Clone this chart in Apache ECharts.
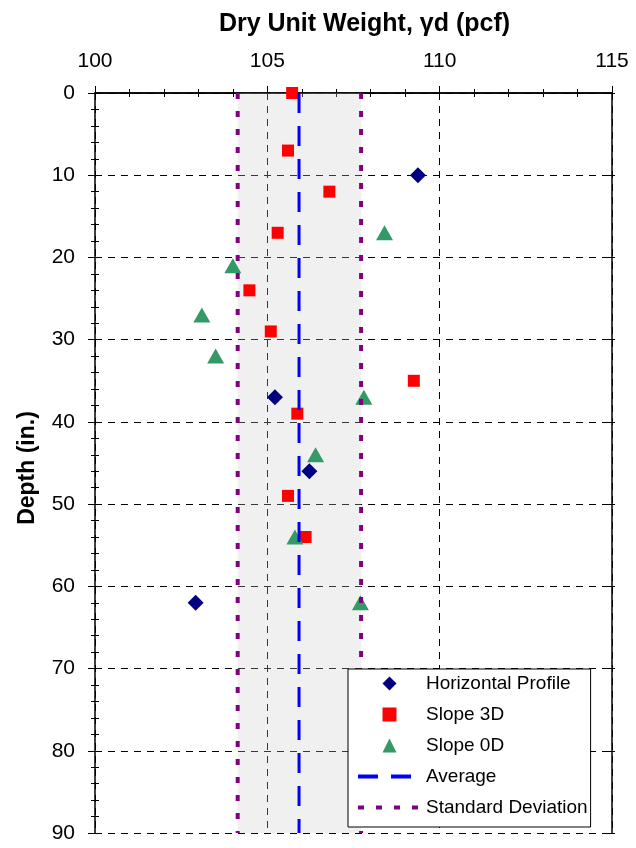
<!DOCTYPE html>
<html>
<head>
<meta charset="utf-8">
<script src="https://cdn.jsdelivr.net/npm/echarts@6/dist/echarts.min.js"></script>
<style>
  html, body { margin: 0; padding: 0; background: #fff; }
  #chart { width: 636px; height: 848px; }
</style>
</head>
<body>
<div id="chart"></div>
<script>
// depth (in.) and dry unit weight (pcf)
const hpDepth = [10, 37, 46, 62];
const hpWeight = [109.37, 105.22, 106.22, 102.92];

const s3Depth = [0, 7, 12, 17, 24, 29, 35, 39, 49, 54];
const s3Weight = [105.72, 105.6, 106.8, 105.3, 104.48, 105.1, 109.25, 105.87, 105.6, 106.11];

const s0Depth = [17, 21, 27, 32, 37, 44, 54, 62];
const s0Weight = [108.4, 104.0, 103.1, 103.5, 107.8, 106.4, 105.8, 107.7];

const averageWeight = 105.92;
const stdLow = 104.14;
const stdHigh = 107.72;
const depthRange = [0, 90];

const font = 'Arial, "Liberation Sans", sans-serif';
const pairs = (xs, ys) => xs.map((x, i) => [x, ys[i]]);
const vline = (x) => depthRange.map((d) => [x, d]);

const xBase = { type: 'value', min: 100, max: 115, interval: 5 };
const yBase = { type: 'value', min: 0, max: 90, interval: 10, inverse: true };
const blackLine = { show: true, lineStyle: { color: '#000', width: 1.5 } };
const tickStyle = { color: '#000', width: 1 };
const noMark = { color: 'rgba(0,0,0,0)', borderWidth: 0 };

// tick marks cross the axis line, so each side gets an extra axis with inside ticks
function innerTicks(base, position, minor) {
  return Object.assign({}, base, {
    position: position,
    axisLine: { show: false },
    axisTick: { show: true, inside: true, length: 7, lineStyle: tickStyle },
    minorTick: { show: minor, splitNumber: 5, length: 4, lineStyle: tickStyle },
    axisLabel: { show: false },
    splitLine: { show: false }
  });
}

const chart = echarts.init(document.getElementById('chart'), null, { renderer: 'canvas' });

chart.setOption({
  animation: false,
  backgroundColor: '#fff',
  grid: { left: 95, right: 24, top: 93, bottom: 15 },
  xAxis: [
    Object.assign({}, xBase, {
      position: 'top',
      name: 'Dry Unit Weight, \u03b3d (pcf)',
      nameLocation: 'middle',
      nameGap: 56,
      nameTextStyle: { fontFamily: font, fontSize: 25, fontWeight: 'bold', color: '#000', padding: [0, 0, 0, 22] },
      axisLine: blackLine,
      axisTick: { show: true, inside: false, length: 7, lineStyle: tickStyle },
      minorTick: { show: true, splitNumber: 5, length: 4, lineStyle: tickStyle },
      axisLabel: { fontFamily: font, fontSize: 21, color: '#000', margin: 21 },
      splitLine: { show: true, lineStyle: { color: '#000', width: 1, type: [7, 6] } }
    }),
    innerTicks(xBase, 'top', true),
    innerTicks(xBase, 'bottom', false),
    Object.assign({}, xBase, {
      position: 'bottom',
      axisLine: blackLine,
      axisTick: { show: false },
      axisLabel: { show: false },
      splitLine: { show: false }
    })
  ],
  yAxis: [
    Object.assign({}, yBase, {
      position: 'left',
      name: 'Depth (in.)',
      nameLocation: 'middle',
      nameGap: 56,
      nameTextStyle: { fontFamily: font, fontSize: 23, fontWeight: 'bold', color: '#000', padding: [0, 10, 0, 0] },
      axisLine: blackLine,
      axisTick: { show: true, inside: false, length: 7, lineStyle: tickStyle },
      minorTick: { show: true, splitNumber: 5, length: 4, lineStyle: tickStyle },
      axisLabel: { fontFamily: font, fontSize: 21, color: '#000', margin: 20 },
      splitLine: { show: true, lineStyle: { color: '#000', width: 1, type: [7, 6] } }
    }),
    innerTicks(yBase, 'left', true),
    innerTicks(yBase, 'right', false),
    Object.assign({}, yBase, {
      position: 'right',
      axisLine: blackLine,
      axisTick: { show: true, inside: false, length: 3, lineStyle: tickStyle },
      axisLabel: { show: false },
      splitLine: { show: false }
    })
  ],
  legend: {
    data: [
      { name: 'Horizontal Profile', icon: 'path://M0,-1L1,0L0,1L-1,0Z' },
      { name: 'Slope 3D', icon: 'path://M0,0H1V1H0Z' },
      { name: 'Slope 0D', icon: 'path://M0,-1L1,1L-1,1Z' },
      { name: 'Average', itemStyle: noMark },
      { name: 'Standard Deviation', itemStyle: noMark }
    ],
    symbolKeepAspect: true,
    orient: 'vertical',
    left: 348,
    top: 669,
    padding: [5, 3, 10, 8],
    itemGap: 12,
    itemWidth: 63,
    itemHeight: 14,
    lineStyle: { width: 4 },
    backgroundColor: '#fff',
    borderColor: '#000',
    borderWidth: 1,
    borderRadius: 0,
    z: 10,
    textStyle: { fontFamily: font, fontSize: 19, color: '#000' }
  },
  series: [
    {
      name: 'Horizontal Profile',
      type: 'scatter',
      symbol: 'diamond',
      symbolSize: 16,
      itemStyle: { color: '#000080', opacity: 1 },
      data: pairs(hpWeight, hpDepth),
      z: 2
    },
    {
      name: 'Slope 3D',
      type: 'scatter',
      symbol: 'rect',
      symbolSize: 12,
      itemStyle: { color: '#ff0000', opacity: 1 },
      data: pairs(s3Weight, s3Depth),
      z: 2
    },
    {
      name: 'Slope 0D',
      type: 'scatter',
      symbol: 'triangle',
      symbolSize: [17, 15],
      itemStyle: { color: '#339966', opacity: 1 },
      data: pairs(s0Weight, s0Depth),
      z: 2
    },
    {
      name: 'band',
      type: 'line',
      data: [],
      z: 3,
      silent: true,
      markArea: {
        silent: true,
        itemStyle: { color: 'rgba(200,200,200,0.28)' },
        data: [[{ xAxis: stdLow }, { xAxis: stdHigh }]]
      }
    },
    {
      name: 'Average',
      type: 'line',
      showSymbol: false,
      symbol: 'none',
      lineStyle: { color: '#0000ff', width: 3, type: [20, 13] },
      itemStyle: { color: '#0000ff' },
      data: vline(averageWeight),
      z: 4
    },
    {
      name: 'Standard Deviation',
      type: 'line',
      showSymbol: false,
      symbol: 'none',
      lineStyle: { color: '#800080', width: 4, type: [6, 12] },
      itemStyle: { color: '#800080' },
      data: vline(stdLow),
      z: 4
    },
    {
      name: 'Standard Deviation',
      type: 'line',
      showSymbol: false,
      symbol: 'none',
      lineStyle: { color: '#800080', width: 4, type: [6, 12] },
      itemStyle: { color: '#800080' },
      data: vline(stdHigh),
      z: 4
    }
  ]
});
</script>
</body>
</html>
